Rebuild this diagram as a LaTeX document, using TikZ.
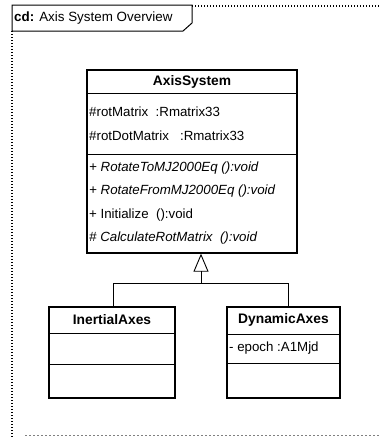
\documentclass[tikz,border=0pt]{standalone}
\usepackage{fontspec}
\setmainfont{Liberation Sans}
\usetikzlibrary{arrows.meta}
\begin{document}
\begin{tikzpicture}[x=1pt,y=-1pt,
  classbox/.style={draw=black,line width=1.3pt,inner sep=0pt,fill=white},
  divline/.style={draw=black,line width=0.9pt},
  txt/.style={anchor=west,inner sep=0pt,font=\fontsize{13.3}{15}\selectfont},
  hdr/.style={inner sep=0pt,font=\fontsize{13.8}{15}\selectfont\bfseries},
  frameline/.style={line width=1.3pt,dash pattern=on 1.3pt off 1.7pt,black},
  conn/.style={line width=0.9pt,black}]
\useasboundingbox (0,0) rectangle (380,437);
% frame
\draw[frameline] (12,31) -- (12,437);
\draw[frameline] (192,6) -- (380,6);
\draw[line width=0.6pt,gray,dash pattern=on 2pt off 2pt] (25,435) -- (380,435);
\draw[line width=1pt] (12,31) -- (12,5) -- (192,5) -- (192,23) -- (183,31) -- cycle;
\node[anchor=west,inner sep=0pt,font=\fontsize{13.4}{15}\selectfont] (title) at (14,18) {\textbf{cd:} Axis System Overview};
% AxisSystem
\node[classbox,minimum width=210pt,minimum height=183pt] (axis) at (192,161.5) {};
\draw[divline] (87,93) -- (297,93);
\draw[divline] (87,154) -- (297,154);
\node[hdr] (axisname) at (192,82) {AxisSystem};
\node[txt] (a1) at (89,112) {\#rotMatrix\ \ :Rmatrix33};
\node[txt] (a2) at (89,136) {\#rotDotMatrix\ \ \ :Rmatrix33};
\node[txt] (m1) at (89,168) {\textit{+ RotateToMJ2000Eq ():void}};
\node[txt] (m2) at (89,191) {\textit{+ RotateFromMJ2000Eq ():void}};
\node[txt] (m3) at (89,215) {+ Initialize\ \ ():void};
\node[txt] (m4) at (89,238) {\textit{\# CalculateRotMatrix\ \ ():void}};
% InertialAxes
\node[classbox,minimum width=126pt,minimum height=91pt] (inertial) at (112,352.5) {};
\draw[divline] (49,333) -- (175,333);
\draw[divline] (49,364) -- (175,364);
\node[hdr] (inertialname) at (112,320) {InertialAxes};
% DynamicAxes
\node[classbox,minimum width=113pt,minimum height=91pt] (dynamic) at (283.5,352.5) {};
\draw[divline] (227,334) -- (340,334);
\draw[divline] (227,363) -- (340,363);
\node[hdr] (dynamicname) at (283.5,320) {DynamicAxes};
\node[txt] (d1) at (229,348) {- epoch :A1Mjd};
% generalization
\coordinate (join) at (201,283);
\coordinate (jl) at (113,283);
\coordinate (jr) at (288,283);
\draw[conn] (jl |- inertial.north) -- (jl) -- (jr) -- (jr |- dynamic.north);
\draw[conn,-{Triangle[open,length=18pt,width=15pt,line width=0.9pt]}] (join) -- (join |- axis.south);
\end{tikzpicture}
\end{document}
